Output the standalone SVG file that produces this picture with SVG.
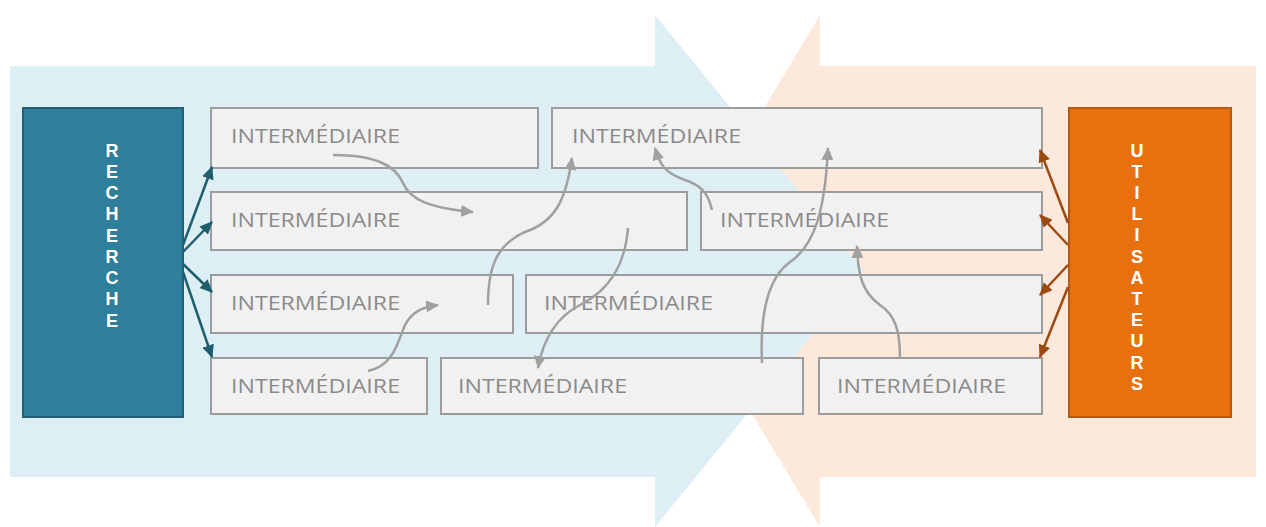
<svg xmlns="http://www.w3.org/2000/svg" width="1266" height="527" viewBox="0 0 1266 527">
<defs>
<style>
.box{fill:#f1f1f1;stroke:#9c9c9c;stroke-width:2}
.lbl{font-family:"Open Sans","Liberation Sans",sans-serif;font-size:20px;fill:#8a8a8a}
.vt{font-family:"Liberation Sans",Arial,sans-serif;font-size:18px;font-weight:bold;fill:#ffffff;text-anchor:middle}
.ta{fill:none;stroke:#1f5e6e;stroke-width:2.5}
.ba{fill:none;stroke:#9c4a12;stroke-width:2.5}
.ga{fill:none;stroke:#a0a0a0;stroke-width:2.5}
</style>
<marker id="mt" markerUnits="userSpaceOnUse" markerWidth="14" markerHeight="12" refX="12" refY="6" orient="auto"><path d="M0,0 L13,6 L0,12 z" fill="#1f5e6e"/></marker>
<marker id="mb" markerUnits="userSpaceOnUse" markerWidth="14" markerHeight="12" refX="12" refY="6" orient="auto"><path d="M0,0 L13,6 L0,12 z" fill="#9c4a12"/></marker>
<marker id="mg" markerUnits="userSpaceOnUse" markerWidth="14" markerHeight="12" refX="12" refY="6" orient="auto"><path d="M0,0 L13,6 L0,12 z" fill="#a0a0a0"/></marker>
</defs>
<rect width="1266" height="527" fill="#ffffff"/>
<g id="background">
<polygon points="1256,66 820,66 820,15 666,271 820,527 820,477 1256,477" fill="#fde9db"/>
<polygon points="10,66 655,66 655,15 864,271 655,527 655,477 10,477" fill="#ddeef5"/>
</g>
<g id="recherche">
<rect x="23" y="108" width="160" height="309" fill="#2e7f9c" stroke="#245f75" stroke-width="2"/>
<text class="vt" x="112" y="156.5">R</text>
<text class="vt" x="112" y="177.75">E</text>
<text class="vt" x="112" y="199">C</text>
<text class="vt" x="112" y="220.25">H</text>
<text class="vt" x="112" y="241.5">E</text>
<text class="vt" x="112" y="262.75">R</text>
<text class="vt" x="112" y="284">C</text>
<text class="vt" x="112" y="305.25">H</text>
<text class="vt" x="112" y="326.5">E</text>
</g>
<g id="utilisateurs">
<rect x="1069" y="108" width="162" height="309" fill="#e8700f" stroke="#b55a12" stroke-width="2"/>
<text class="vt" x="1137" y="156.5">U</text>
<text class="vt" x="1137" y="177.7">T</text>
<text class="vt" x="1137" y="198.9">I</text>
<text class="vt" x="1137" y="220.1">L</text>
<text class="vt" x="1137" y="241.3">I</text>
<text class="vt" x="1137" y="262.5">S</text>
<text class="vt" x="1137" y="283.7">A</text>
<text class="vt" x="1137" y="304.9">T</text>
<text class="vt" x="1137" y="326.1">E</text>
<text class="vt" x="1137" y="347.3">U</text>
<text class="vt" x="1137" y="368.5">R</text>
<text class="vt" x="1137" y="389.7">S</text>
</g>
<g id="int-a"><rect class="box" x="211" y="108" width="327" height="60"/><text class="lbl" x="231" y="143" textLength="169" lengthAdjust="spacingAndGlyphs">INTERMÉDIAIRE</text></g>
<g id="int-b"><rect class="box" x="552" y="108" width="490" height="60"/><text class="lbl" x="572" y="143" textLength="169" lengthAdjust="spacingAndGlyphs">INTERMÉDIAIRE</text></g>
<g id="int-c"><rect class="box" x="211" y="192" width="476" height="58"/><text class="lbl" x="231" y="227" textLength="169" lengthAdjust="spacingAndGlyphs">INTERMÉDIAIRE</text></g>
<g id="int-d"><rect class="box" x="701" y="192" width="341" height="58"/><text class="lbl" x="720" y="227" textLength="169" lengthAdjust="spacingAndGlyphs">INTERMÉDIAIRE</text></g>
<g id="int-e"><rect class="box" x="211" y="275" width="302" height="58"/><text class="lbl" x="231" y="310" textLength="169" lengthAdjust="spacingAndGlyphs">INTERMÉDIAIRE</text></g>
<g id="int-f"><rect class="box" x="526" y="275" width="516" height="58"/><text class="lbl" x="544" y="310" textLength="169" lengthAdjust="spacingAndGlyphs">INTERMÉDIAIRE</text></g>
<g id="int-g"><rect class="box" x="211" y="358" width="216" height="56"/><text class="lbl" x="231" y="393" textLength="169" lengthAdjust="spacingAndGlyphs">INTERMÉDIAIRE</text></g>
<g id="int-h"><rect class="box" x="441" y="358" width="362" height="56"/><text class="lbl" x="458" y="393" textLength="169" lengthAdjust="spacingAndGlyphs">INTERMÉDIAIRE</text></g>
<g id="int-i"><rect class="box" x="819" y="358" width="223" height="56"/><text class="lbl" x="837" y="393" textLength="169" lengthAdjust="spacingAndGlyphs">INTERMÉDIAIRE</text></g>
<g id="connectors">
<path class="ta" d="M183,245 L212,167" marker-end="url(#mt)"/>
<path class="ta" d="M183,252 L212,222" marker-end="url(#mt)"/>
<path class="ta" d="M183,264 L212,292" marker-end="url(#mt)"/>
<path class="ta" d="M183,272 L212,357" marker-end="url(#mt)"/>
<path class="ba" d="M1068,223 L1040,150" marker-end="url(#mb)"/>
<path class="ba" d="M1068,245 L1040,215" marker-end="url(#mb)"/>
<path class="ba" d="M1068,265 L1040,295" marker-end="url(#mb)"/>
<path class="ba" d="M1068,287 L1040,357" marker-end="url(#mb)"/>
<path class="ga" d="M333,155 C375,155 395,165 403,183 C410,200 430,208 473,212" marker-end="url(#mg)"/>
<path class="ga" d="M488,305 C488,270 495,245 525,232 C555,222 566,200 572,158" marker-end="url(#mg)"/>
<path class="ga" d="M628,228 C625,265 610,290 580,305 C555,318 543,340 538,368" marker-end="url(#mg)"/>
<path class="ga" d="M368,371 C395,365 398,340 405,325 C412,312 422,307 438,305" marker-end="url(#mg)"/>
<path class="ga" d="M712,210 C708,192 700,185 685,180 C665,173 660,165 655,148" marker-end="url(#mg)"/>
<path class="ga" d="M762,363 C760,320 765,280 790,262 C815,245 825,210 828,148" marker-end="url(#mg)"/>
<path class="ga" d="M900,358 C900,330 895,315 880,305 C862,292 858,275 857,246" marker-end="url(#mg)"/>
</g>
</svg>
